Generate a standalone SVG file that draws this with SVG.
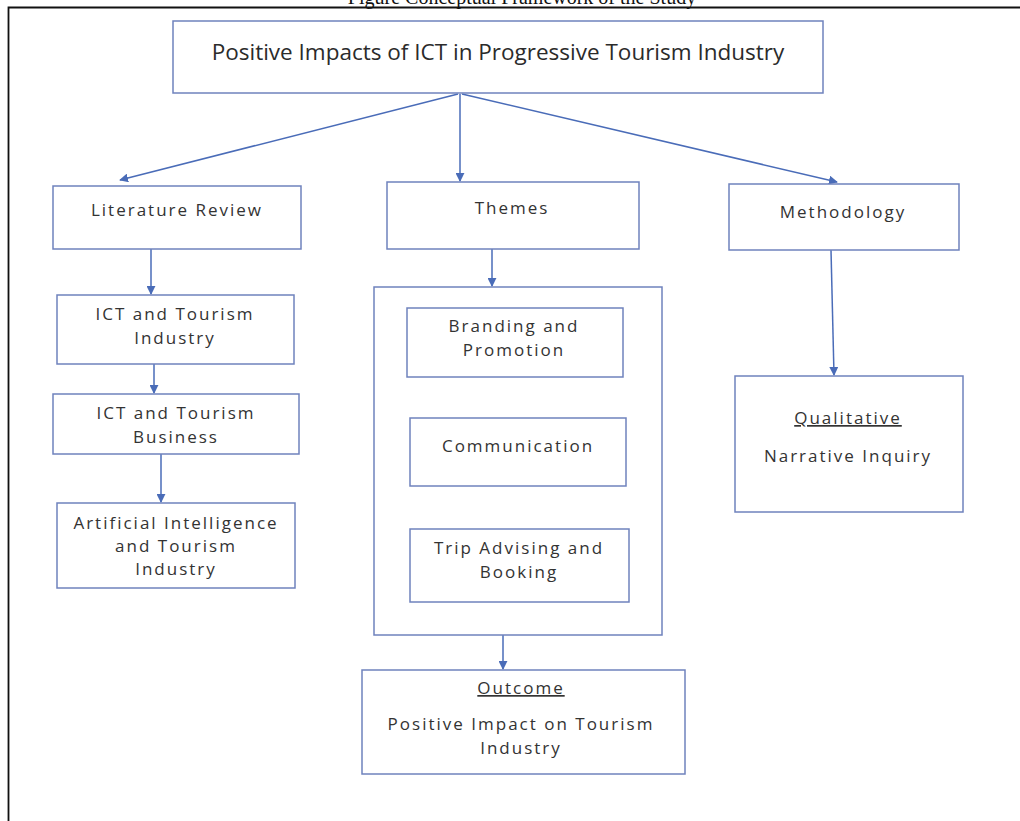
<svg xmlns="http://www.w3.org/2000/svg" width="1020" height="821" viewBox="0 0 1020 821">
<style>
.bg{fill:#ffffff}
.box{fill:#ffffff;stroke:#6f82bd;stroke-width:1.5}
.t{font-family:"Open Sans","Liberation Sans",sans-serif;font-size:17px;fill:#333333;text-anchor:middle;letter-spacing:2px}
.title{font-family:"Open Sans","Liberation Sans",sans-serif;font-size:22.5px;fill:#2b2b2b;text-anchor:middle}
.u{text-decoration:underline}
.cap{font-family:"Liberation Serif",serif;font-size:20px;fill:#111111;text-anchor:middle}
.frame{stroke:#111111;stroke-width:1.8;fill:none}
.c{stroke:#4a6cb8;stroke-width:1.5;fill:none}
</style>
<defs>
<marker id="ah" viewBox="0 0 10 10" refX="9" refY="5" markerWidth="9" markerHeight="9" markerUnits="userSpaceOnUse" orient="auto-start-reverse">
<path d="M0,0 L10,5 L0,10 z" fill="#4a6cb8"/>
</marker>
</defs>
<rect class="bg" x="0" y="0" width="1020" height="821"/>
<text class="cap" x="522" y="4">Figure Conceptual Framework of the Study</text>
<path class="frame" d="M8.5,821 L8.5,7.5 L1020,7.5"/>

<g id="connectors">
<line class="c" x1="458" y1="94" x2="120" y2="180" marker-end="url(#ah)"/>
<line class="c" x1="460" y1="94" x2="460" y2="181" marker-end="url(#ah)"/>
<line class="c" x1="462" y1="94" x2="837" y2="182" marker-end="url(#ah)"/>
<line class="c" x1="151" y1="249" x2="151" y2="294" marker-end="url(#ah)"/>
<line class="c" x1="154" y1="364" x2="154" y2="393" marker-end="url(#ah)"/>
<line class="c" x1="161" y1="454" x2="161" y2="502" marker-end="url(#ah)"/>
<line class="c" x1="492" y1="249" x2="492" y2="286" marker-end="url(#ah)"/>
<line class="c" x1="508" y1="378" x2="508" y2="417" marker-start="url(#ah)" marker-end="url(#ah)"/>
<line class="c" x1="504" y1="487" x2="504" y2="528" marker-start="url(#ah)" marker-end="url(#ah)"/>
<line class="c" x1="503" y1="635" x2="503" y2="669" marker-end="url(#ah)"/>
<line class="c" x1="831" y1="250" x2="834" y2="375" marker-end="url(#ah)"/>
</g>

<g id="n-title">
<rect class="box" x="173" y="21" width="650" height="72"/>
<text class="title" x="498" y="60">Positive Impacts of ICT in Progressive Tourism Industry</text>
</g>

<g id="n-literature">
<rect class="box" x="53" y="186" width="248" height="63"/>
<text class="t" x="177" y="216">Literature Review</text>
</g>
<g id="n-ict-industry">
<rect class="box" x="57" y="295" width="237" height="69"/>
<text class="t" x="175" y="320">ICT and Tourism</text>
<text class="t" x="175" y="344">Industry</text>
</g>
<g id="n-ict-business">
<rect class="box" x="53" y="394" width="246" height="60"/>
<text class="t" x="176" y="419">ICT and Tourism</text>
<text class="t" x="176" y="443">Business</text>
</g>
<g id="n-ai">
<rect class="box" x="57" y="503" width="238" height="85"/>
<text class="t" x="176" y="529">Artificial Intelligence</text>
<text class="t" x="176" y="552">and Tourism</text>
<text class="t" x="176" y="575">Industry</text>
</g>

<g id="n-themes">
<rect class="box" x="387" y="182" width="252" height="67"/>
<text class="t" x="512" y="214">Themes</text>
</g>
<g id="n-container">
<rect class="box" x="374" y="287" width="288" height="348"/>
</g>
<g id="n-branding">
<rect class="box" x="407" y="308" width="216" height="69"/>
<text class="t" x="514" y="332">Branding and</text>
<text class="t" x="514" y="356">Promotion</text>
</g>
<g id="n-communication">
<rect class="box" x="410" y="418" width="216" height="68"/>
<text class="t" x="518" y="452">Communication</text>
</g>
<g id="n-trip">
<rect class="box" x="410" y="529" width="219" height="73"/>
<text class="t" x="519" y="554">Trip Advising and</text>
<text class="t" x="519" y="578">Booking</text>
</g>

<g id="n-outcome">
<rect class="box" x="362" y="670" width="323" height="104"/>
<text class="t u" x="521" y="694">Outcome</text>
<text class="t" x="521" y="730">Positive Impact on Tourism</text>
<text class="t" x="521" y="754">Industry</text>
</g>

<g id="n-methodology">
<rect class="box" x="729" y="184" width="230" height="66"/>
<text class="t" x="843" y="218">Methodology</text>
</g>
<g id="n-qualitative">
<rect class="box" x="735" y="376" width="228" height="136"/>
<text class="t u" x="848" y="424">Qualitative</text>
<text class="t" x="848" y="462">Narrative Inquiry</text>
</g>
</svg>
